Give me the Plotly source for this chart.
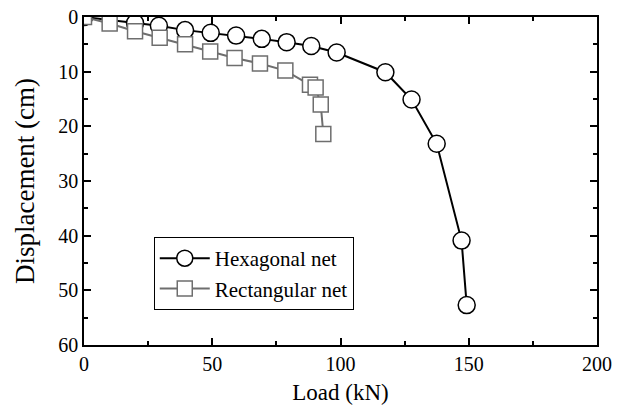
import plotly.graph_objects as go

hex_load = [0, 19.9, 29.2, 39.4, 49.4, 59.3, 69.3, 79.0, 88.6, 98.5, 117.5, 127.7, 137.5, 147.2, 149.2]
hex_disp = [0, 1.1, 1.6, 2.4, 2.9, 3.4, 4.0, 4.6, 5.3, 6.5, 10.1, 15.1, 23.2, 40.9, 52.7]

rect_load = [0, 10.0, 19.9, 29.5, 39.4, 49.2, 58.7, 68.6, 78.5, 88.1, 90.3, 92.3, 93.3]
rect_disp = [0, 1.2, 2.6, 3.8, 5.0, 6.3, 7.5, 8.5, 9.8, 12.4, 12.9, 16.0, 21.4]

FONT = "Liberation Serif, Times New Roman, serif"

fig = go.Figure()
fig.add_trace(go.Scatter(
    x=hex_load, y=hex_disp, name="Hexagonal net", mode="lines+markers",
    line=dict(color="black", width=2),
    marker=dict(symbol="circle", size=17, color="white", line=dict(color="black", width=1.5)),
))
fig.add_trace(go.Scatter(
    x=rect_load, y=rect_disp, name="Rectangular net", mode="lines+markers",
    line=dict(color="#6e6e6e", width=2),
    marker=dict(symbol="square", size=15, color="white", line=dict(color="#6e6e6e", width=1.5)),
))

axis_common = dict(
    showline=True, linecolor="black", linewidth=1.5, mirror="allticks",
    ticks="inside", ticklen=7, tickwidth=1.5, tickcolor="black",
    showgrid=False, zeroline=False, automargin=False,
    tickfont=dict(family=FONT, size=20, color="black"),
)

fig.update_xaxes(
    range=[0, 200], dtick=50, tick0=0,
    minor=dict(ticks="inside", ticklen=4, tickwidth=1.5, tickcolor="black", dtick=25, showgrid=False),
    title=dict(text="Load (kN)", font=dict(family=FONT, size=23, color="black"), standoff=10),
    **axis_common,
)
fig.update_yaxes(
    range=[60, 0], dtick=10, tick0=0,
    minor=dict(ticks="inside", ticklen=4, tickwidth=1.5, tickcolor="black", dtick=5, showgrid=False),
    title=dict(text="Displacement (cm)", font=dict(family=FONT, size=27, color="black"), standoff=16),
    **axis_common,
)

fig.update_layout(
    width=624, height=409,
    font=dict(family=FONT, color="black"),
    margin=dict(l=84, r=27, t=17, b=64, autoexpand=False),
    paper_bgcolor="white", plot_bgcolor="white",
    showlegend=True,
    legend=dict(
        x=0.136, y=0.329, xanchor="left", yanchor="top",
        bgcolor="white", bordercolor="black", borderwidth=1,
        font=dict(family=FONT, size=21, color="black"),
        itemwidth=50, tracegroupgap=0,
    ),
)

fig.write_html(
    "out.html",
    config={"displayModeBar": False},
    post_script="document.body.style.margin='0';document.body.style.overflow='hidden';",
)
